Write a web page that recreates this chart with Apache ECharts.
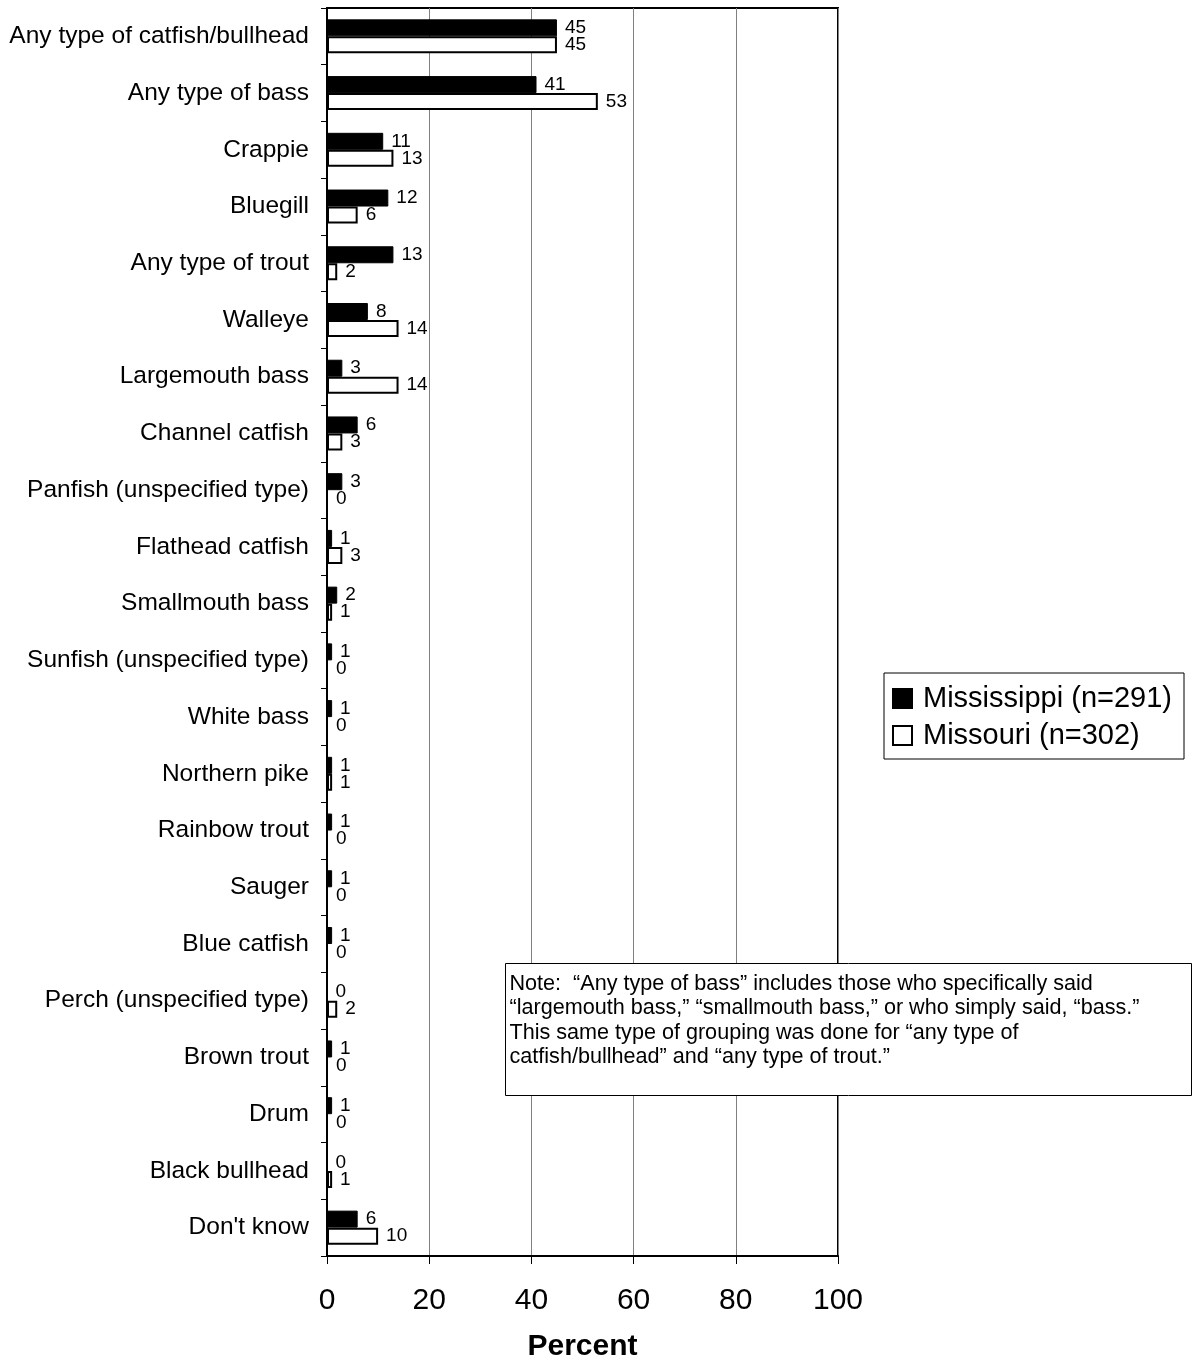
<!DOCTYPE html>
<html>
<head>
<meta charset="utf-8">
<script src="https://cdn.jsdelivr.net/npm/echarts@6/dist/echarts.min.js"></script>
<style>
  html, body { margin: 0; padding: 0; background: #fff; }
  #chart { width: 1195px; height: 1359px; }
</style>
</head>
<body>
<div id="chart"></div>
<script>
// Species named as the usual fishing target, percent of respondents
const categories = [
  'Any type of catfish/bullhead', 'Any type of bass', 'Crappie', 'Bluegill',
  'Any type of trout', 'Walleye', 'Largemouth bass', 'Channel catfish',
  'Panfish (unspecified type)', 'Flathead catfish', 'Smallmouth bass',
  'Sunfish (unspecified type)', 'White bass', 'Northern pike', 'Rainbow trout',
  'Sauger', 'Blue catfish', 'Perch (unspecified type)', 'Brown trout', 'Drum',
  'Black bullhead', "Don't know"
];
const mississippi = [45, 41, 11, 12, 13, 8, 3, 6, 3, 1, 2, 1, 1, 1, 1, 1, 1, 0, 1, 1, 0, 6];
const missouri    = [45, 53, 13, 6, 2, 14, 14, 3, 0, 3, 1, 0, 0, 1, 0, 0, 0, 2, 0, 0, 1, 10];
const xTicks = [0, 20, 40, 60, 80, 100];
const seriesNames = ['Mississippi (n=291)', 'Missouri (n=302)'];
const noteLines = [
  'Note:  \u201CAny type of bass\u201D includes those who specifically said',
  '\u201Clargemouth bass,\u201D \u201Csmallmouth bass,\u201D or who simply said, \u201Cbass.\u201D',
  'This same type of grouping was done for \u201Cany type of',
  'catfish/bullhead\u201D and \u201Cany type of trout.\u201D'
];

const FONT = '"Liberation Sans", Arial, sans-serif';
const chart = echarts.init(document.getElementById('chart'));

const labelStyle = {
  show: true,
  position: 'right',
  distance: 8,
  color: '#000',
  fontFamily: FONT,
  fontSize: 19
};

chart.setOption({
  backgroundColor: '#fff',
  animation: false,
  textStyle: { fontFamily: FONT, color: '#000' },
  grid: {
    left: 327, right: 357, top: 8, bottom: 103,
    outerBoundsMode: 'none',
    containLabel: false,
    show: true, borderColor: '#000', borderWidth: 2, backgroundColor: 'transparent'
  },
  legend: {
    orient: 'vertical',
    left: 884, top: 673,
    padding: [11, 12, 9, 8],
    itemGap: 8,
    itemWidth: 19, itemHeight: 19,
    borderColor: '#000', borderWidth: 1,
    backgroundColor: '#fff',
    icon: 'rect',
    textStyle: { fontFamily: FONT, fontSize: 29, color: '#000', padding: [0, 0, 0, 6] },
    data: seriesNames
  },
  xAxis: {
    type: 'value',
    min: xTicks[0], max: xTicks[xTicks.length - 1], interval: 20,
    axisLine: { show: true, lineStyle: { color: '#000', width: 2 } },
    axisTick: { show: true, length: 8, lineStyle: { color: '#000', width: 1 } },
    axisLabel: { fontFamily: FONT, fontSize: 30, color: '#000', margin: 30 },
    splitLine: { show: true, lineStyle: { color: '#808080', width: 1 } },
    name: 'Percent',
    nameLocation: 'middle',
    nameGap: 76,
    nameTextStyle: { fontFamily: FONT, fontSize: 30, fontWeight: 'bold', color: '#000' }
  },
  yAxis: {
    type: 'category',
    data: categories,
    inverse: true,
    axisLine: { show: true, lineStyle: { color: '#000', width: 2 } },
    axisTick: { show: true, length: 6, lineStyle: { color: '#000', width: 1 } },
    axisLabel: { fontFamily: FONT, fontSize: 24.5, color: '#000', margin: 18, interval: 0 }
  },
  series: [
    {
      name: seriesNames[0],
      type: 'bar',
      data: mississippi,
      barWidth: 17,
      barGap: '0%',
      itemStyle: { color: '#000', borderColor: '#000', borderWidth: 1 },
      label: labelStyle
    },
    {
      name: seriesNames[1],
      type: 'bar',
      data: missouri,
      barWidth: 17,
      barGap: '0%',
      itemStyle: { color: '#fff', borderColor: '#000', borderWidth: 2 },
      label: labelStyle
    }
  ],
  graphic: [
    {
      type: 'group',
      left: 505, top: 963,
      z: 100,
      children: [
        {
          type: 'rect',
          z: 100,
          shape: { x: 0, y: 0, width: 686, height: 132 },
          style: { fill: '#fff', stroke: '#000', lineWidth: 1 }
        },
        {
          type: 'text',
          z: 101,
          x: 4, y: 8,
          style: {
            text: noteLines.join('\n'),
            fontFamily: FONT,
            fontSize: 21.6,
            lineHeight: 24.5,
            fill: '#000'
          }
        }
      ]
    }
  ]
});
</script>
</body>
</html>
